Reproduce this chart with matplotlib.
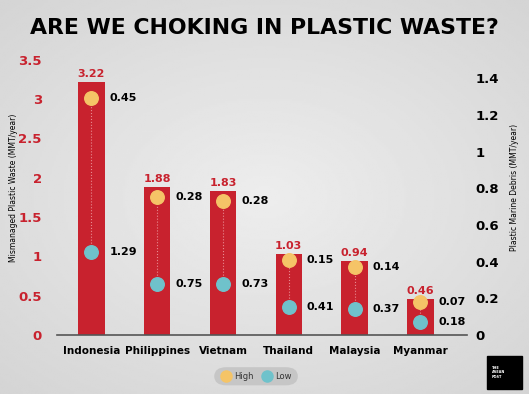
import numpy as np
import matplotlib.pyplot as plt
from matplotlib.patches import FancyBboxPatch, Rectangle

countries = ['Indonesia', 'Philippines', 'Vietnam', 'Thailand', 'Malaysia', 'Myanmar']
mismanaged = [3.22, 1.88, 1.83, 1.03, 0.94, 0.46]
debris_high = [1.29, 0.75, 0.73, 0.41, 0.37, 0.18]
debris_low = [0.45, 0.28, 0.28, 0.15, 0.14, 0.07]
left_ticks = [0, 0.5, 1, 1.5, 2, 2.5, 3, 3.5]
right_ticks = [0, 0.2, 0.4, 0.6, 0.8, 1, 1.2, 1.4]

RED = '#c8222e'
HIGH = '#f5c467'
LOW = '#6fc2cb'
FONT = 'DejaVu Sans'

fig = plt.figure(figsize=(5.29, 3.94), dpi=100)

# background: soft radial grey gradient
bg = fig.add_axes([0, 0, 1, 1], zorder=-10)
yy, xx = np.mgrid[0:1:200j, 0:1:260j]
r = np.sqrt(((xx - 0.5) / 0.75) ** 2 + ((yy - 0.5) / 0.7) ** 2)
bg.imshow(0.93 - 0.1 * np.clip(r, 0, 1), cmap='gray', vmin=0, vmax=1,
          aspect='auto', extent=[0, 1, 0, 1])
bg.axis('off')

ax = fig.add_axes([0.108, 0.15, 0.775, 0.698])
ax.patch.set_alpha(0)
x = np.arange(len(countries))
ax.bar(x, mismanaged, width=0.4, color=RED, zorder=2)
for xi, v in zip(x, mismanaged):
    ax.text(xi, v + 0.04, f'{v:.2f}', ha='center', va='bottom', color=RED,
            fontsize=8, fontweight='bold', family=FONT)

ax.set_xlim(-0.52, 5.71)
ax.set_ylim(0, 3.5)
ax.set_yticks(left_ticks)
ax.set_yticklabels([f'{t:g}' for t in left_ticks], color=RED, fontsize=9.5,
                   fontweight='bold', family=FONT)
ax.set_xticks(x)
ax.set_xticklabels(countries, fontsize=7.5, fontweight='bold', family=FONT)
ax.tick_params(axis='y', length=0, pad=11)
ax.tick_params(axis='x', length=0, pad=8)
for s in ['top', 'right', 'left']:
    ax.spines[s].set_visible(False)
ax.spines['bottom'].set_color('#555555')
ax.spines['bottom'].set_linewidth(1.2)
ax.set_ylabel('Mismanaged Plastic Waste (MMT/year)', fontsize=5.5, family=FONT)
ax.yaxis.set_label_coords(-0.095, 0.535)

ax2 = ax.twinx()
ax2.set_ylim(0, 1.5)
ax2.set_yticks(right_ticks)
ax2.set_yticklabels([f'{t:g}' for t in right_ticks], fontsize=9.5,
                    fontweight='bold', family=FONT)
ax2.tick_params(axis='y', length=0, pad=6)
for s in ['top', 'right', 'left', 'bottom']:
    ax2.spines[s].set_visible(False)
ax2.set_ylabel('Plastic Marine Debris (MMT/year)', fontsize=5.5, family=FONT)
ax2.yaxis.set_label_coords(1.105, 0.535)

for xi, h, l in zip(x, debris_high, debris_low):
    ax2.plot([xi, xi], [l, h], ls=':', color='#e88a90', lw=0.8, zorder=3)
ax2.scatter(x, debris_high, s=95, color=HIGH, zorder=4)
ax2.scatter(x, debris_low, s=95, color=LOW, zorder=4)
# labels as printed on the original (values swapped between dots)
for xi, h, l in zip(x, debris_high, debris_low):
    ax2.annotate(f'{l:.2f}', (xi, h), xytext=(13, 0), textcoords='offset points',
                 va='center', fontsize=8, fontweight='bold', family=FONT)
    ax2.annotate(f'{h:.2f}', (xi, l), xytext=(13, 0), textcoords='offset points',
                 va='center', fontsize=8, fontweight='bold', family=FONT)

fig.text(0.5, 0.93, 'ARE WE CHOKING IN PLASTIC WASTE?', ha='center',
         va='center', fontsize=15.8, fontweight='heavy', family=FONT)

# legend pill
pill = FancyBboxPatch((0.405, 0.022), 0.158, 0.046,
                      boxstyle='round,pad=0,rounding_size=0.023',
                      transform=fig.transFigure, facecolor='#c6c6c6',
                      edgecolor='none')
fig.patches.append(pill)
fig.lines.append(plt.Line2D([0.427], [0.045], marker='o', ms=8, color=HIGH,
                            transform=fig.transFigure))
fig.text(0.443, 0.045, 'High', va='center', fontsize=6, family=FONT,
         color='#333333')
fig.lines.append(plt.Line2D([0.505], [0.045], marker='o', ms=8, color=LOW,
                            transform=fig.transFigure))
fig.text(0.52, 0.045, 'Low', va='center', fontsize=6, family=FONT,
         color='#333333')

# logo
fig.patches.append(Rectangle((0.92, 0.013), 0.066, 0.084, color='black',
                             transform=fig.transFigure))
fig.text(0.93, 0.055, 'THE\nASEAN\nPOST', color='white', fontsize=2.5,
         va='center', family=FONT, fontweight='bold')

fig.savefig('out.png', dpi=100)
